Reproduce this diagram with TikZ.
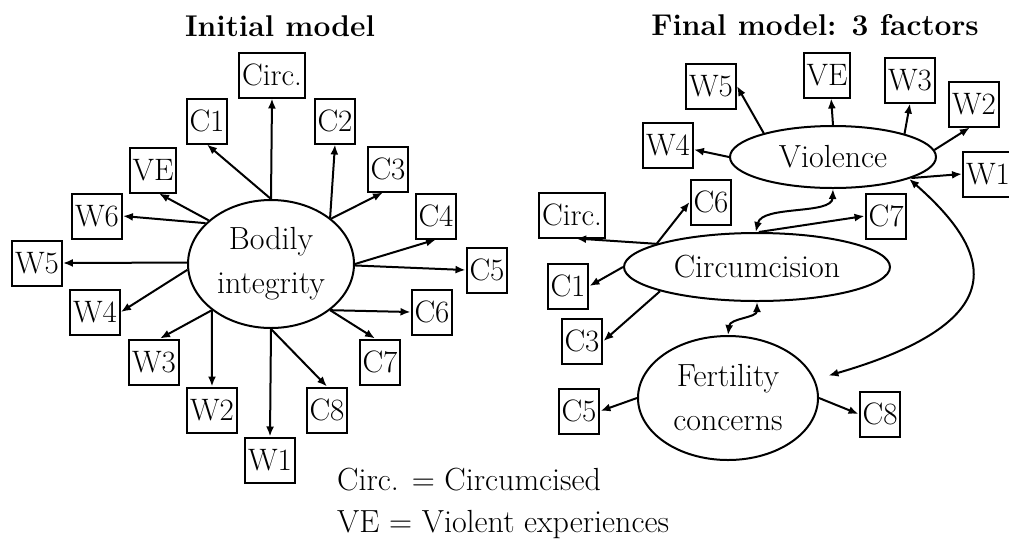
\documentclass[tikz,border=0pt]{standalone}
\usetikzlibrary{arrows.meta,shapes.geometric}
\begin{document}
\begin{tikzpicture}[x=1pt,y=-1pt,
  every node/.style={font=\fontsize{31}{31}\selectfont},
  var/.style={draw, line width=2pt, minimum height=45pt, inner xsep=3pt, inner ysep=0pt},
  factor/.style={draw, ellipse, line width=2pt, inner sep=0pt, align=center,
    font=\fontsize{32}{44}\selectfont},
  load/.style={line width=2pt, -{Latex[length=10pt,width=8pt]}},
  cov/.style={line width=2pt, {Latex[length=10pt,width=8pt]}-{Latex[length=10pt,width=8pt]}},
  heading/.style={font=\fontsize{30}{30}\selectfont\bfseries},
  legend/.style={anchor=base west, inner sep=0pt, font=\fontsize{32}{32}\selectfont},
]
\useasboundingbox (0,0) rectangle (1009,547);

% ---------- headings ----------
\node[heading] (t1) at (280,26) {Initial model};
\node[heading] (t2) at (815,25) {Final model: 3 factors};

% ---------- initial model: one factor ----------
\node[factor, minimum width=166pt, minimum height=128pt] (bi) at (271,264) {Bodily\\integrity};

\node[var] (circA) at (272,75)  {Circ.};
\node[var] (c1A)   at (207,121) {C1};
\node[var] (c2A)   at (335,121) {C2};
\node[var] (veA)   at (153,170) {VE};
\node[var] (c3A)   at (388,169) {C3};
\node[var] (w6A)   at (97,216)  {W6};
\node[var] (c4A)   at (436,216) {C4};
\node[var] (w5A)   at (37,263)  {W5};
\node[var] (c5A)   at (487,270) {C5};
\node[var] (w4A)   at (95,312)  {W4};
\node[var] (c6A)   at (432,312) {C6};
\node[var] (w3A)   at (154,362) {W3};
\node[var] (c7A)   at (380,362) {C7};
\node[var] (w2A)   at (212,410) {W2};
\node[var] (c8A)   at (327,410) {C8};
\node[var] (w1A)   at (270,460) {W1};

\draw[load] (bi.90)   -- (circA.south);
\draw[load] (bi.90)   -- (c1A.south);
\draw[load] (bi.145)  -- ([xshift=6pt]veA.south);
\draw[load] (bi.148)  -- (w6A.east);
\draw[load] (bi.38)   -- (c2A.south);
\draw[load] (bi.37)   -- ([xshift=-5pt]c3A.south);
\draw[load] (bi.179)  -- (w5A.east);
\draw[load] (bi.184)  -- (w4A.east);
\draw[load] (bi.0)    -- (c4A.south);
\draw[load] (bi.-1)   -- (c5A.west);
\draw[load] (bi.-38)  -- (c6A.west);
\draw[load] (bi.-38)  -- ([xshift=-5pt]c7A.north);
\draw[load] (bi.-142) -- ([xshift=6pt]w3A.north);
\draw[load] (bi.-142) -- (w2A.north);
\draw[load] (bi.-90)  -- (w1A.north);
\draw[load] (bi.-90)  -- (c8A.north);

% ---------- final model: three factors ----------
\node[factor, minimum width=206pt, minimum height=62pt]  (viol)   at (833,157) {Violence};
\node[factor, minimum width=266pt, minimum height=68pt]  (circum) at (757,267) {Circumcision};
\node[factor, minimum width=180pt, minimum height=124pt] (fert)   at (728,398) {Fertility\\concerns};

\node[var] (w5B)   at (711,86)  {W5};
\node[var] (veB)   at (827,75)  {VE};
\node[var] (w3B)   at (910,80)  {W3};
\node[var] (w2B)   at (974,104) {W2};
\node[var] (w4B)   at (668,145) {W4};
\node[var, anchor=west] (w1B) at (962,174) {W1};
\node[var] (c6B)   at (711,202) {C6};
\node[var] (circB) at (572,215) {Circ.};
\node[var] (c7B)   at (886,216) {C7};
\node[var] (c1B)   at (568,286) {C1};
\node[var] (c3B)   at (582,341) {C3};
\node[var] (c5B)   at (579,411) {C5};
\node[var] (c8B)   at (880,414) {C8};

\draw[load] (viol.161) -- (w5B.east);
\draw[load] (viol.90)  -- (veB.-80);
\draw[load] (viol.18)  -- (w3B.south);
\draw[load] (viol.4)   -- (w2B.-100);
\draw[load] (viol.180) -- (w4B.-10);
\draw[load] (viol.-15) -- (w1B.west);

\draw[load] (circum.167) -- (circB.-80);
\draw[load] (circum.167) -- (c6B.west);
\draw[load] (circum.87)  -- (c7B.west);
\draw[load] (circum.180) -- (c1B.east);
\draw[load] (circum.194) -- (c3B.east);

\draw[load] (fert.180) -- (c5B.east);
\draw[load] (fert.0)   -- (c8B.west);

% factor covariances
\draw[cov] (circum.92) .. controls (762,205) and (832,215) .. (viol.270);
\draw[cov] (circum.270) .. controls (757,318) and (730,318) .. (fert.90);
\draw[cov, shorten >=14pt] (viol.-16) .. controls (990,250) and (1020,320) .. (fert.12);

% ---------- legend ----------
\node[legend] (leg1) at (337,490) {Circ. = Circumcised};
\node[legend] (leg2) at (337,532) {VE = Violent experiences};
\end{tikzpicture}
\end{document}
